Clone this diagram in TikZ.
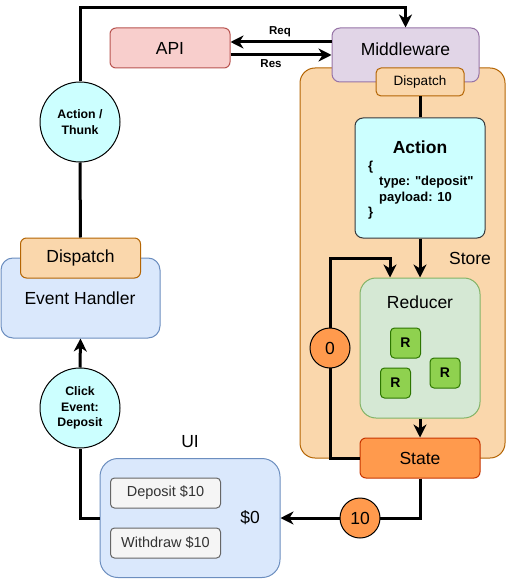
\documentclass[tikz,border=0pt]{standalone}
\usepackage{fontspec}
\setmainfont{Liberation Sans}
\usetikzlibrary{arrows.meta,calc}
\definecolor{apifill}{HTML}{F8CECC}\definecolor{apidraw}{HTML}{B85450}
\definecolor{mwfill}{HTML}{E1D5E7}\definecolor{mwdraw}{HTML}{9673A6}
\definecolor{orfill}{HTML}{FAD7AC}\definecolor{ordraw}{HTML}{B46504}
\definecolor{cyfill}{HTML}{CCFFFF}\definecolor{cydraw}{HTML}{36393D}
\definecolor{grfill}{HTML}{D5E8D4}\definecolor{grdraw}{HTML}{82B366}
\definecolor{rfill}{HTML}{8FD14F}\definecolor{rdraw}{HTML}{2D7600}
\definecolor{stfill}{HTML}{FF9A4D}\definecolor{stdraw}{HTML}{C73500}
\definecolor{blfill}{HTML}{DAE8FC}\definecolor{bldraw}{HTML}{6C8EBF}
\definecolor{btfill}{HTML}{F5F5F5}\definecolor{btdraw}{HTML}{666666}
\definecolor{bttext}{HTML}{333333}
\newcommand\dgbig{\fontsize{17.5}{20}\selectfont}
\newcommand\dgmid{\fontsize{14.5}{17}\selectfont}
\newcommand\dgsmall{\fontsize{13.5}{15.3}\selectfont}
\newcommand\dglab{\fontsize{12.3}{15.5}\selectfont\bfseries}
\begin{document}
\begin{tikzpicture}[x=1pt,y=-1pt,
  box/.style={draw, line width=1pt, inner sep=0pt, rounded corners=#1},
  box/.default=6pt,
  txt/.style={inner sep=0pt, font=\dgbig},
  conn/.style={line width=3pt, draw=black},
  arr/.style={conn, -{Stealth[length=13pt,width=13pt,inset=4pt]}},
  circ/.style={draw, line width=1pt, circle, inner sep=0pt, minimum size=#1},
]
\useasboundingbox (0,0) rectangle (506,580);

% Store container
\node[box=15pt, fill=orfill, draw=ordraw, minimum width=205pt, minimum height=390pt] (store) at (402.5,263) {};
\node[txt] (storelab) at (470,258) {Store};

% Middleware and API
\node[box=8pt, fill=mwfill, draw=mwdraw, minimum width=147pt, minimum height=54pt] (mw) at (405.5,55) {};
\node[txt] (mwlab) at (405.5,49) {Middleware};
\node[box, fill=apifill, draw=apidraw, minimum width=120pt, minimum height=40pt, font=\dgbig] (api) at (170,48) {API};
\node[box=5pt, fill=orfill, draw=ordraw, minimum width=88pt, minimum height=28pt, font=\dgsmall] (disp1) at (420,82) {Dispatch};

% Action
\node[box=8pt, fill=cyfill, draw=cydraw, minimum width=130pt, minimum height=120pt] (action) at (420,178) {};
\node[txt, font=\dgbig\bfseries] (actiontitle) at (420,147) {Action};
\node[inner sep=0pt, anchor=west, align=left, font=\fontsize{13}{15.3}\selectfont\bfseries] (code) at (368,190)
  {\{\\\hspace{11pt}type: \textquotedbl deposit\textquotedbl\\\hspace{11pt}payload: 10\\\}};

% Reducer
\node[box=16pt, fill=grfill, draw=grdraw, minimum width=120pt, minimum height=140pt] (reducer) at (420,348) {};
\node[txt] (reducerlab) at (420,302) {Reducer};
\node[box=4pt, fill=rfill, draw=rdraw, minimum size=30pt, font=\fontsize{14}{16}\selectfont\bfseries] (r1) at (405.5,343) {R};
\node[box=4pt, fill=rfill, draw=rdraw, minimum size=30pt, font=\fontsize{14}{16}\selectfont\bfseries] (r2) at (395.5,383) {R};
\node[box=4pt, fill=rfill, draw=rdraw, minimum size=30pt, font=\fontsize{14}{16}\selectfont\bfseries] (r3) at (445,373) {R};

% State
\node[box, fill=stfill, draw=stdraw, minimum width=120pt, minimum height=40pt, font=\dgbig] (state) at (420,458) {State};

% UI
\node[box=18pt, fill=blfill, draw=bldraw, minimum width=180pt, minimum height=119pt] (ui) at (190,518) {};
\node[txt] (uilab) at (190,442) {UI};
\node[box=4pt, fill=btfill, draw=btdraw, text=bttext, minimum width=110pt, minimum height=30pt, font=\dgmid] (dep) at (165.5,493) {Deposit \$10};
\node[box=4pt, fill=btfill, draw=btdraw, text=bttext, minimum width=110pt, minimum height=30pt, font=\dgmid] (wd) at (165.5,543) {Withdraw \$10};
\node[txt] (dollar) at (250,518) {\$0};

% Event handler
\node[box=12pt, fill=blfill, draw=bldraw, minimum width=159pt, minimum height=80pt] (eh) at (80.5,298) {};
\node[txt] (ehlab) at (80,298) {Event Handler};
\node[box, fill=orfill, draw=ordraw, minimum width=120pt, minimum height=40pt, font=\dgbig] (disp2) at (80.5,258) {Dispatch};

% Circles
\node[circ=80pt, fill=cyfill, align=center, font=\dglab] (thunk) at (80,122) {Action /\\Thunk};
\node[circ=80pt, fill=cyfill, align=center, font=\dglab] (click) at (80,408) {Click\\Event:\\Deposit};

% Connectors
\coordinate (topl) at (80,8);
\coordinate (topr) at (405.5,8);
\draw[arr] (thunk.north) -- (topl) -- (topr) -- (mw.north);
\draw[conn] (disp2.north) -- (thunk.south);
\draw[arr] (click.north) -- (eh.south);
\draw[conn] (ui.west) -| (click.south);

\coordinate (reqs) at ($(mw.west)+(0,-13)$);
\coordinate (reqe) at ($(api.east)+(0,-6)$);
\coordinate (ress) at ($(api.east)+(0,7)$);
\coordinate (rese) at (mw.west);
\draw[arr] (reqs) -- (reqe);
\draw[arr] (ress) -- (rese);
\node[inner sep=0pt, font=\fontsize{11.5}{13}\selectfont\bfseries] (reqlab) at (280,32) {Req};
\node[inner sep=0pt, font=\fontsize{11.5}{13}\selectfont\bfseries] (reslab) at (271,64) {Res};

\draw[conn] (disp1.south) -- (action.north);
\draw[arr] (action.south) -- (reducer.north);
\draw[arr] (reducer.south) -- (state.north);

\coordinate (lb) at (330,458);
\coordinate (lt) at (330,258);
\coordinate (lr) at (390,258);
\draw[arr] (state.west) -- (lb) -- (lt) -- (lr) -- (lr |- reducer.north);
\node[circ=40pt, fill=stfill, font=\dgbig] (c0) at (330,348) {0};

\draw[arr] (state.south) |- (ui.east);
\node[circ=40pt, fill=stfill, font=\dgbig] (c10) at (360,518) {10};
\end{tikzpicture}
\end{document}
